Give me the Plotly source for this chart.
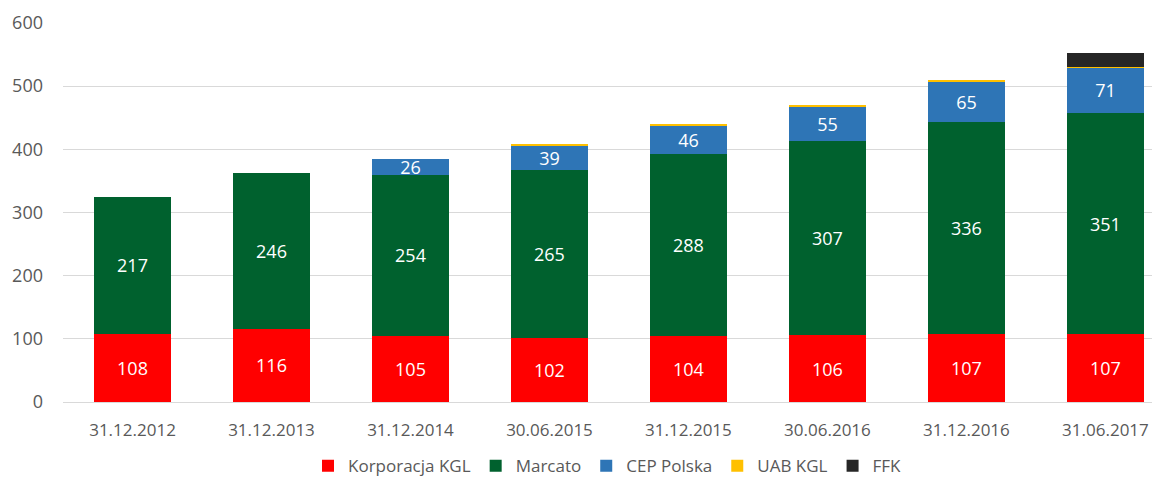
import plotly.graph_objects as go

categories = ["31.12.2012", "31.12.2013", "31.12.2014", "30.06.2015",
              "31.12.2015", "30.06.2016", "31.12.2016", "31.06.2017"]
korporacja = [108, 116, 105, 102, 104, 106, 107, 107]
marcato = [217, 246, 254, 265, 288, 307, 336, 351]
cep = [0, 0, 26, 39, 46, 55, 65, 71]
uab = [0, 0, 0, 1, 1, 1, 2, 1]
ffk = [0, 0, 0, 0, 0, 0, 0, 22]

series = [
    ("Korporacja KGL", korporacja, "#ff0000", True),
    ("Marcato", marcato, "#00612e", True),
    ("CEP Polska", cep, "#2e75b6", True),
    ("UAB KGL", uab, "#ffc000", False),
    ("FFK", ffk, "#262626", False),
]

FONT = "Open Sans, Noto Sans, sans-serif"
fig = go.Figure()
for name, vals, color, labeled in series:
    fig.add_trace(go.Bar(
        x=list(range(len(categories))), y=vals, name=name,
        marker=dict(color=color, line=dict(width=0)),
        text=[str(v) if (labeled and v) else "" for v in vals],
        textposition="inside" if labeled else "none",
        insidetextanchor="middle",
        textangle=0,
        textfont=dict(color="white", size=18, family=FONT),
        hoverinfo="skip",
    ))

fig.update_layout(
    barmode="stack",
    bargap=0.44,
    width=1144, height=471,
    margin=dict(l=55, r=0, t=15, b=77, autoexpand=False),
    plot_bgcolor="white", paper_bgcolor="white",
    font=dict(family=FONT, color="#595959", size=17),
    uniformtext=dict(minsize=18, mode="show"),
    legend=dict(orientation="h", x=0.5, xanchor="center", y=-0.122, yanchor="top",
                font=dict(size=17, color="#595959"), traceorder="normal",
                itemwidth=30),
    xaxis=dict(tickmode="array", tickvals=list(range(len(categories))), ticktext=categories,
               range=[-0.5, 7.335], showgrid=False, zeroline=False, showline=False,
               tickfont=dict(size=17, color="#595959"), ticks="", ticklabelstandoff=16,
               automargin=False),
    yaxis=dict(range=[0, 600], dtick=100, gridcolor="#d9d9d9", gridwidth=1,
               zeroline=True, zerolinecolor="#d9d9d9", zerolinewidth=1,
               tickfont=dict(size=18, color="#595959"), ticks="", ticklabelstandoff=19,
               automargin=False),
)
fig.write_html("out.html")
